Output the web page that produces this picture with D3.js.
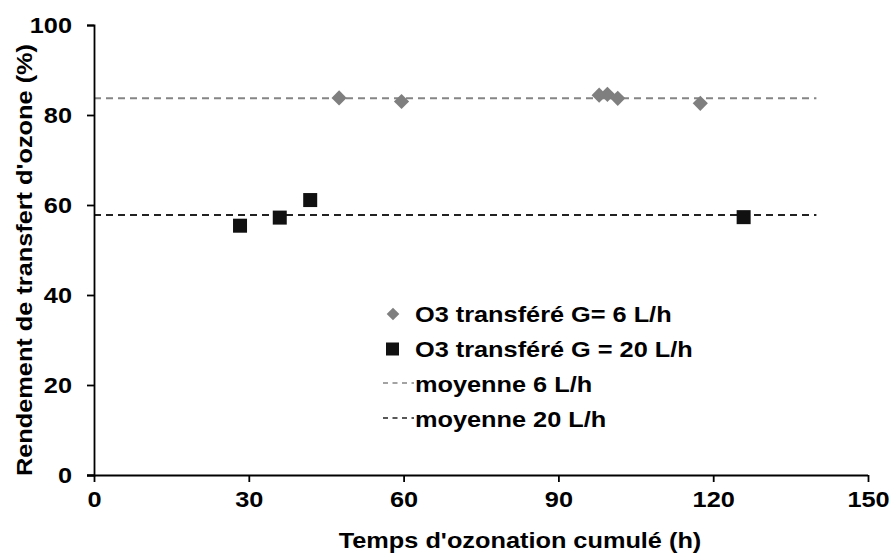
<!DOCTYPE html>
<html>
<head>
<meta charset="utf-8">
<script src="https://cdn.jsdelivr.net/npm/d3@7/dist/d3.min.js"></script>
<style>
  html, body { margin: 0; padding: 0; background: #fff; }
  svg { display: block; font-family: "Liberation Sans", Arial, sans-serif; font-weight: bold; }
</style>
</head>
<body>
<svg id="chart" width="890" height="554"></svg>
<script>
// Cumulated ozonation time (h) and ozone transfer efficiency (%)
const timeG6 = [47.5, 59.6, 97.9, 99.5, 101.5, 117.5];
const yieldG6 = [83.8, 83.0, 84.4, 84.6, 83.7, 82.6];
const timeG20 = [28.3, 36.0, 41.9, 125.9];
const yieldG20 = [55.4, 57.2, 61.1, 57.3];
const meanG6 = 83.7;
const meanG20 = 57.8;
const meanSpan = [0, 140];
const xTicks = [0, 30, 60, 90, 120, 150];
const yTicks = [0, 20, 40, 60, 80, 100];
const legendLabels = ["O3 transféré G= 6 L/h", "O3 transféré G = 20 L/h", "moyenne 6 L/h", "moyenne 20 L/h"];
const xTitle = "Temps d'ozonation cumulé (h)";
const yTitle = "Rendement de transfert d'ozone (%)";

const svg = d3.select("#chart");
const x = d3.scaleLinear().domain([0, 150]).range([94, 868]);
const y = d3.scaleLinear().domain([0, 100]).range([475, 25]);

const grey = "#7f7f7f", dark = "#111111";
const FONT = "22px";

// widen the bold sans glyphs a little
function widen(sel, k = 1.15) {
  sel.each(function () {
    const len = this.getComputedTextLength();
    d3.select(this).attr("textLength", len * k).attr("lengthAdjust", "spacingAndGlyphs");
  });
}

// mean lines
function meanLine(v, color) {
  svg.append("line")
    .attr("x1", x(meanSpan[0])).attr("x2", x(meanSpan[1]))
    .attr("y1", y(v)).attr("y2", y(v))
    .attr("stroke", color).attr("stroke-width", 2)
    .attr("stroke-dasharray", "7,5");
}
meanLine(meanG6, "#858585");
meanLine(meanG20, "#222222");

// axes
const xAxis = svg.append("g").attr("transform", `translate(0,${y(0)})`)
  .call(d3.axisBottom(x).tickValues(xTicks).tickSize(7).tickPadding(9).tickFormat(d3.format("d")));
const yAxis = svg.append("g").attr("transform", `translate(${x(0)},0)`)
  .call(d3.axisLeft(y).tickValues(yTicks).tickSize(7).tickPadding(15).tickFormat(d3.format("d")));
[xAxis, yAxis].forEach(g => {
  g.select(".domain").attr("stroke", "#000").attr("stroke-width", 1.8);
  g.selectAll(".tick line").attr("stroke", "#000").attr("stroke-width", 1.8);
  g.selectAll(".tick text").attr("fill", "#000").style("font-size", FONT)
    .style("font-family", "Liberation Sans, Arial, sans-serif").style("font-weight", "bold")
    .call(widen);
});
xAxis.select(".domain").attr("d", `M${x(0) - 7},0.5H${x(150)}`);

// points
svg.append("g").selectAll("path").data(timeG6.map((t, i) => [t, yieldG6[i]]))
  .join("path")
  .attr("transform", d => `translate(${x(d[0])},${y(d[1])}) rotate(45)`)
  .attr("d", d3.symbol().type(d3.symbolSquare).size(115))
  .attr("fill", grey);

svg.append("g").selectAll("rect").data(timeG20.map((t, i) => [t, yieldG20[i]]))
  .join("rect")
  .attr("x", d => x(d[0]) - 7).attr("y", d => y(d[1]) - 7)
  .attr("width", 14).attr("height", 14)
  .attr("fill", dark);

// legend
const lg = svg.append("g");
const rows = [322, 357, 392, 427];
lg.append("path")
  .attr("transform", `translate(393,${rows[0] - 8}) rotate(45)`)
  .attr("d", d3.symbol().type(d3.symbolSquare).size(80))
  .attr("fill", grey);
lg.append("rect").attr("x", 386).attr("y", rows[1] - 8 - 6.5).attr("width", 13).attr("height", 13).attr("fill", dark);
lg.append("line").attr("x1", 383).attr("x2", 414).attr("y1", rows[2] - 9).attr("y2", rows[2] - 9)
  .attr("stroke", "#858585").attr("stroke-width", 1.6).attr("stroke-dasharray", "5,4.5");
lg.append("line").attr("x1", 383).attr("x2", 414).attr("y1", rows[3] - 9).attr("y2", rows[3] - 9)
  .attr("stroke", "#222").attr("stroke-width", 1.6).attr("stroke-dasharray", "5,4.5");
lg.selectAll("text").data(legendLabels).join("text")
  .attr("x", 415)
  .attr("y", (d, i) => rows[i])
  .style("font-size", FONT).attr("fill", "#000")
  .text(d => d)
  .call(widen);

// axis titles
svg.append("text").attr("x", 520).attr("y", 548)
  .attr("text-anchor", "middle").style("font-size", FONT).text(xTitle).call(widen);
svg.append("text").attr("transform", `translate(32,260) rotate(-90)`)
  .attr("text-anchor", "middle").style("font-size", FONT).text(yTitle).call(widen);
</script>
</body>
</html>
